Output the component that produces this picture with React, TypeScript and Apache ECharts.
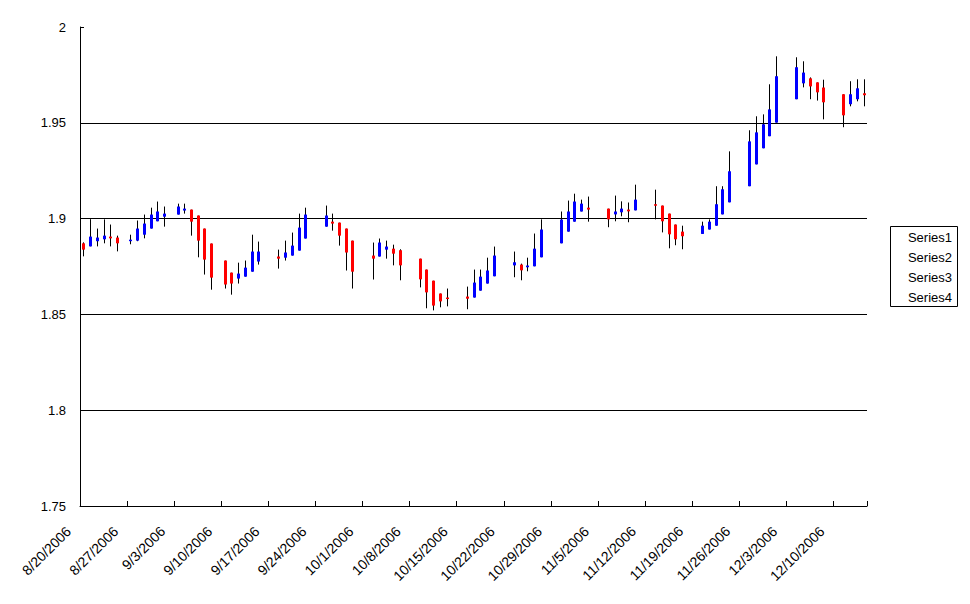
import React, { useEffect, useRef } from "react";
import * as echarts from "echarts";

// Axis range (every calendar day is a slot on the date axis)
const axisStart = "8/20/2006";
const axisEnd = "12/14/2006";

// Trading days present in the data
const tradeDates = [
  "8/20/2006", "8/21/2006", "8/22/2006", "8/23/2006", "8/24/2006", "8/25/2006",
  "8/27/2006", "8/28/2006", "8/29/2006", "8/30/2006", "8/31/2006", "9/1/2006",
  "9/3/2006", "9/4/2006", "9/5/2006", "9/6/2006", "9/7/2006", "9/8/2006",
  "9/10/2006", "9/11/2006", "9/12/2006", "9/13/2006", "9/14/2006", "9/15/2006",
  "9/18/2006", "9/19/2006", "9/20/2006", "9/21/2006", "9/22/2006",
  "9/25/2006", "9/26/2006", "9/27/2006", "9/28/2006", "9/29/2006",
  "10/2/2006", "10/3/2006", "10/4/2006", "10/5/2006", "10/6/2006",
  "10/9/2006", "10/10/2006", "10/11/2006", "10/12/2006", "10/13/2006",
  "10/16/2006", "10/17/2006", "10/18/2006", "10/19/2006", "10/20/2006",
  "10/23/2006", "10/24/2006", "10/25/2006", "10/26/2006", "10/27/2006",
  "10/30/2006", "10/31/2006", "11/1/2006", "11/2/2006", "11/3/2006",
  "11/6/2006", "11/7/2006", "11/8/2006", "11/9/2006", "11/10/2006",
  "11/13/2006", "11/14/2006", "11/15/2006", "11/16/2006", "11/17/2006",
  "11/20/2006", "11/21/2006", "11/22/2006", "11/23/2006", "11/24/2006",
  "11/27/2006", "11/28/2006", "11/29/2006", "11/30/2006", "12/1/2006",
  "12/4/2006", "12/5/2006", "12/6/2006", "12/7/2006", "12/8/2006",
  "12/11/2006", "12/12/2006", "12/13/2006", "12/14/2006",
];

const openVals = [
  1.8871, 1.8855, 1.8882, 1.8892, 1.8906, 1.8901,
  1.8885, 1.8885, 1.8916, 1.8948, 1.8986, 1.9010,
  1.9021, 1.9042, 1.9047, 1.9016, 1.8948, 1.8870,
  1.8781, 1.8718, 1.8687, 1.8697, 1.8723, 1.8776,
  1.8802, 1.8796, 1.8807, 1.8833, 1.8896,
  1.8958, 1.8984, 1.8979, 1.8948, 1.8885,
  1.8807, 1.8802, 1.8838, 1.8843, 1.8835,
  1.8791, 1.8734, 1.8676, 1.8609, 1.8588,
  1.8593, 1.8588, 1.8624, 1.8661, 1.8699,
  1.8756, 1.8760, 1.8746, 1.8751, 1.8798,
  1.8871, 1.8932, 1.8984, 1.9037, 1.9057,
  1.9052, 1.9022, 1.9033, 1.9047, 1.9043,
  1.9075, 1.9068, 1.9026, 1.8969, 1.8932,
  1.8920, 1.8943, 1.8963, 1.9022, 1.9085,
  1.9169, 1.9283, 1.9367, 1.9430, 1.9501,
  1.9623, 1.9706, 1.9732, 1.9711, 1.9684,
  1.9649, 1.9597, 1.9623, 1.9654,
];

const highVals = [
  1.8876, 1.8997, 1.8948, 1.8996, 1.8969, 1.8911,
  1.8916, 1.8990, 1.9021, 1.9057, 1.9089, 1.9063,
  1.9078, 1.9078, 1.9047, 1.9016, 1.8948, 1.8870,
  1.8781, 1.8718, 1.8770, 1.8781, 1.8916, 1.8880,
  1.8838, 1.8885, 1.8927, 1.9026, 1.9057,
  1.9068, 1.9026, 1.8979, 1.8948, 1.8885,
  1.8875, 1.8896, 1.8885, 1.8864, 1.8840,
  1.8791, 1.8734, 1.8676, 1.8609, 1.8635,
  1.8645, 1.8734, 1.8734, 1.8796, 1.8854,
  1.8828, 1.8765, 1.8796, 1.8922, 1.8996,
  1.9037, 1.9094, 1.9130, 1.9099, 1.9115,
  1.9052, 1.9120, 1.9090, 1.9084, 1.9177,
  1.9151, 1.9068, 1.9026, 1.8969, 1.8963,
  1.8984, 1.8996, 1.9169, 1.9169, 1.9351,
  1.9461, 1.9534, 1.9544, 1.9701, 1.9847,
  1.9842, 1.9821, 1.9737, 1.9711, 1.9725,
  1.9649, 1.9717, 1.9727, 1.9727,
];

const lowVals = [
  1.8803, 1.8855, 1.8855, 1.8871, 1.8855, 1.8829,
  1.8866, 1.8882, 1.8897, 1.8948, 1.8986, 1.8958,
  1.9021, 1.9026, 1.8911, 1.8798, 1.8708, 1.8629,
  1.8635, 1.8603, 1.8661, 1.8697, 1.8723, 1.8760,
  1.8739, 1.8781, 1.8807, 1.8833, 1.8896,
  1.8958, 1.8937, 1.8859, 1.8729, 1.8635,
  1.8682, 1.8802, 1.8791, 1.8756, 1.8678,
  1.8641, 1.8532, 1.8521, 1.8537, 1.8542,
  1.8527, 1.8588, 1.8624, 1.8661, 1.8699,
  1.8694, 1.8678, 1.8725, 1.8751, 1.8798,
  1.8871, 1.8932, 1.8984, 1.9037, 1.8984,
  1.8955, 1.8986, 1.9012, 1.8981, 1.9043,
  1.8996, 1.8928, 1.8845, 1.8861, 1.8840,
  1.8920, 1.8943, 1.8963, 1.9022, 1.9085,
  1.9169, 1.9283, 1.9367, 1.9430, 1.9501,
  1.9623, 1.9685, 1.9623, 1.9616, 1.9518,
  1.9477, 1.9586, 1.9612, 1.9586,
];

const closeVals = [
  1.8838, 1.8906, 1.8901, 1.8911, 1.8897, 1.8871,
  1.8890, 1.8948, 1.8974, 1.9021, 1.9037, 1.9026,
  1.9063, 1.9052, 1.8984, 1.8885, 1.8786, 1.8692,
  1.8656, 1.8661, 1.8713, 1.8744, 1.8828, 1.8828,
  1.8791, 1.8823, 1.8859, 1.8953, 1.9021,
  1.9016, 1.8974, 1.8911, 1.8823, 1.8723,
  1.8791, 1.8875, 1.8854, 1.8817, 1.8756,
  1.8683, 1.8615, 1.8546, 1.8568, 1.8582,
  1.8582, 1.8666, 1.8697, 1.8729, 1.8807,
  1.8772, 1.8730, 1.8755, 1.8843, 1.8943,
  1.8995, 1.9037, 1.9089, 1.9078, 1.9047,
  1.8996, 1.9037, 1.9052, 1.9038, 1.9099,
  1.9069, 1.8986, 1.8918, 1.8892, 1.8908,
  1.8963, 1.8984, 1.9075, 1.9153, 1.9247,
  1.9403, 1.9450, 1.9492, 1.9570, 1.9743,
  1.9790, 1.9762, 1.9690, 1.9659, 1.9607,
  1.9539, 1.9649, 1.9680, 1.9644,
];

const legendNames = ["Series1", "Series2", "Series3", "Series4"];

const yMin = 1.75;
const yMax = 2;
const yStep = 0.05;

function parseMDY(s: string): number {
  const [m, d, y] = s.split("/").map(Number);
  return Date.UTC(y, m - 1, d);
}

function buildDays(): string[] {
  const out: string[] = [];
  const DAY = 86400000;
  for (let t = parseMDY(axisStart); t <= parseMDY(axisEnd); t += DAY) {
    const dt = new Date(t);
    out.push(`${dt.getUTCMonth() + 1}/${dt.getUTCDate()}/${dt.getUTCFullYear()}`);
  }
  return out;
}

const FONT = "'Liberation Sans', Arial, sans-serif";

export default function App() {
  const ref = useRef<HTMLDivElement>(null);

  useEffect(() => {
    if (!ref.current) return;
    const chart = echarts.init(ref.current, null, { renderer: "svg" });
    const days = buildDays();
    const data = tradeDates.map((d, i) => [
      days.indexOf(d),
      openVals[i],
      closeVals[i],
      lowVals[i],
      highVals[i],
    ]);

    const legendChildren: any[] = [
      {
        type: "rect",
        shape: { x: 890.5, y: 226.5, width: 67, height: 80 },
        style: { fill: "#fff", stroke: "#000", lineWidth: 1 },
      },
      ...legendNames.map((n, i) => ({
        type: "text",
        x: 952,
        y: 237.5 + i * 20,
        style: {
          text: n,
          fill: "#000",
          font: `13px ${FONT}`,
          textAlign: "right",
          textVerticalAlign: "middle",
        },
      })),
    ];

    chart.setOption({
      animation: false,
      backgroundColor: "#fff",
      grid: { left: 80, top: 27, right: 103, bottom: 98, containLabel: false },
      xAxis: {
        type: "category",
        data: days,
        boundaryGap: true,
        axisLine: { show: true, lineStyle: { color: "#000", width: 1 } },
        axisTick: { show: true, inside: true, length: 5, interval: 6, lineStyle: { color: "#000" } },
        axisLabel: {
          interval: 6,
          rotate: 45,
          margin: 8,
          padding: [0, 21, 0, 0],
          color: "#000",
          fontSize: 14,
          fontFamily: FONT,
        },
        splitLine: { show: false },
      },
      yAxis: {
        type: "value",
        min: yMin,
        max: yMax,
        interval: yStep,
        axisLine: { show: true, lineStyle: { color: "#000", width: 1 } },
        axisTick: { show: true, inside: true, length: 4, lineStyle: { color: "#000" } },
        axisLabel: {
          margin: 14,
          color: "#000",
          fontSize: 13,
          fontFamily: FONT,
        },
        splitLine: {
          show: true,
          showMaxLine: false,
          lineStyle: { color: "#000", width: 1 },
        },
      },
      series: [
        {
          type: "custom",
          name: "OHLC",
          data,
          encode: { x: 0, y: [1, 2, 3, 4] },
          clip: false,
          renderItem: (params: any, api: any) => {
            const xi = api.value(0);
            const o = api.value(1);
            const c = api.value(2);
            const l = api.value(3);
            const h = api.value(4);
            const pO = api.coord([xi, o]);
            const pC = api.coord([xi, c]);
            const pL = api.coord([xi, l]);
            const pH = api.coord([xi, h]);
            const cx = Math.round(pO[0]);
            const top = Math.min(pO[1], pC[1]);
            let bh = Math.abs(pO[1] - pC[1]);
            if (bh < 1.5) bh = 1.5;
            return {
              type: "group",
              children: [
                {
                  type: "line",
                  shape: { x1: cx + 0.5, y1: pH[1], x2: cx + 0.5, y2: pL[1] },
                  style: { stroke: "#000", lineWidth: 1 },
                },
                {
                  type: "rect",
                  shape: { x: cx - 1, y: top, width: 3, height: bh },
                  style: { fill: c >= o ? "#0000FF" : "#FF0000", stroke: null },
                },
              ],
            };
          },
        },
      ],
      graphic: [{ type: "group", children: legendChildren }],
    });

    return () => chart.dispose();
  }, []);

  return (
    <div
      ref={ref}
      style={{ position: "fixed", left: 0, top: 0, width: 970, height: 604, background: "#fff" }}
    />
  );
}
